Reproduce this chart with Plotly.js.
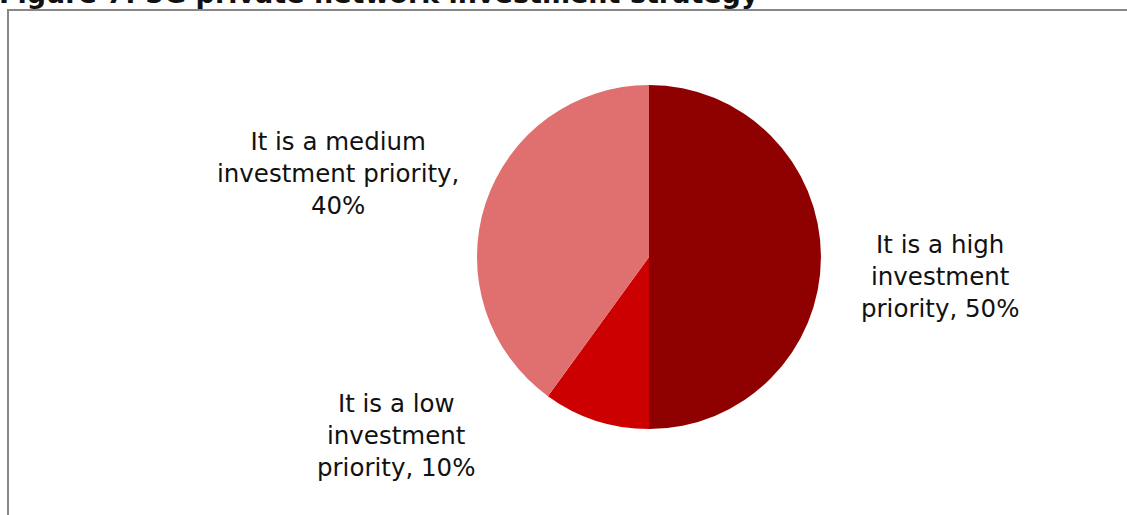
<!DOCTYPE html>
<html><head><meta charset="utf-8">
<script src="https://cdn.plot.ly/plotly-3.0.1.min.js"></script>
<style>html,body{margin:0;padding:0;background:#fff}</style>
</head><body>
<div id="chart" style="width:1127px;height:515px"></div>
<script>
const categories = ["It is a high investment priority", "It is a low investment priority", "It is a medium investment priority"];
const values = [50, 10, 40];
const colors = ["#8F0000", "#CC0000", "#E07070"];
const labelTexts = ["It is a high<br>investment<br>priority, 50%", "It is a low<br>investment<br>priority, 10%", "It is a medium<br>investment priority,<br>40%"];
const labelPos = [[940, 276], [396, 435], [338, 173]];

const W = 1127, H = 515;
const font = "Verdana, DejaVu Sans, sans-serif";
const annotations = labelTexts.map((t, i) => ({
  text: t, xref: 'paper', yref: 'paper',
  x: labelPos[i][0] / W, y: 1 - labelPos[i][1] / H,
  xanchor: 'center', yanchor: 'middle', showarrow: false, align: 'center',
  font: {family: font, size: 24.5, color: '#111'}
}));
annotations.push({
  text: "<b>Figure 7: 5G private network investment strategy</b>",
  xref: 'paper', yref: 'paper', x: -3 / W, y: 1 - 11 / H, xanchor: 'left', yanchor: 'bottom',
  showarrow: false, font: {family: font, size: 27, color: '#111'}
});

Plotly.newPlot('chart', [{
  type: 'pie', values: values, labels: categories, sort: false, direction: 'clockwise', rotation: 0,
  marker: {colors: colors, line: {width: 0}},
  textinfo: 'none', hoverinfo: 'label+percent', showlegend: false,
  domain: {x: [477 / W, 821 / W], y: [1 - 429 / H, 1 - 85 / H]}
}], {
  width: W, height: H, margin: {l: 0, r: 0, t: 0, b: 0},
  paper_bgcolor: '#fff', showlegend: false,
  annotations: annotations,
  shapes: [{type: 'rect', xref: 'paper', yref: 'paper', x0: 8 / W, x1: 1.02, y0: -0.02, y1: 1 - 10 / H,
    line: {color: '#888', width: 2}, fillcolor: 'rgba(0,0,0,0)'}]
}, {displayModeBar: false, staticPlot: true});
</script>
</body></html>
